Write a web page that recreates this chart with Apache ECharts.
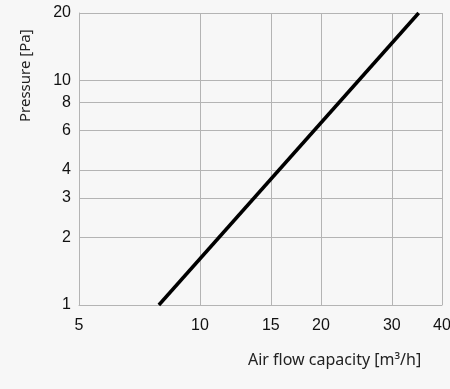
<!DOCTYPE html>
<html>
<head>
<meta charset="utf-8">
<script src="https://cdn.jsdelivr.net/npm/echarts@6/dist/echarts.min.js"></script>
<style>
html,body{margin:0;padding:0;background:#f7f7f7;}
#chart{width:450px;height:389px;}
</style>
</head>
<body>
<div id="chart"></div>
<script>
// Data (straight line on log-log axes)
const xTicks = [5, 10, 15, 20, 30, 40];
const yTicks = [1, 2, 3, 4, 6, 8, 10, 20];
const flow = [7.9, 35];       // Air flow capacity [m³/h]
const pressure = [1, 20];     // Pressure [Pa]
const xName = 'Air flow capacity [m³/h]';
const yName = 'Pressure [Pa]';

const tickFont = "'Liberation Sans', Arial, sans-serif";
const nameFont = "'Noto Sans', 'Open Sans', sans-serif";
const gridColor = '#b4b4b4';

const chart = echarts.init(document.getElementById('chart'), null, {renderer: 'canvas'});
chart.setOption({
  backgroundColor: '#f7f7f7',
  animation: false,
  grid: {left: 79, right: 8, top: 13, bottom: 84, containLabel: false, outerBoundsMode: 'none'},
  xAxis: {
    type: 'log', logBase: 10, min: 5, max: 40,
    axisLine: {show: true, lineStyle: {color: gridColor, width: 1}},
    axisTick: {show: false, customValues: xTicks},
    axisLabel: {customValues: xTicks, color: '#111', fontSize: 16, fontFamily: tickFont, margin: 13,
      formatter: v => String(v), hideOverlap: false},
    splitLine: {show: true, lineStyle: {color: gridColor, width: 1}},
    minorSplitLine: {show: false}
  },
  yAxis: {
    type: 'log', logBase: 10, min: 1, max: 20,
    axisLine: {show: true, lineStyle: {color: gridColor, width: 1}},
    axisTick: {show: false, customValues: yTicks},
    axisLabel: {customValues: yTicks, color: '#111', fontSize: 16, fontFamily: tickFont, margin: 8,
      formatter: v => String(v), hideOverlap: false},
    splitLine: {show: true, lineStyle: {color: gridColor, width: 1}}
  },
  graphic: [
    {type: 'text', left: 248, top: 352, style: {text: xName, font: "16px " + nameFont, fill: '#222'}},
    {type: 'text', x: 18, y: 122, rotation: Math.PI / 2,
      style: {text: yName, font: "15px " + nameFont, fill: '#222'}}
  ],
  series: [{
    type: 'line',
    data: flow.map((f, i) => [f, pressure[i]]),
    symbol: 'none',
    lineStyle: {color: '#000', width: 3.5},
    smooth: false
  }]
});
</script>
</body>
</html>
